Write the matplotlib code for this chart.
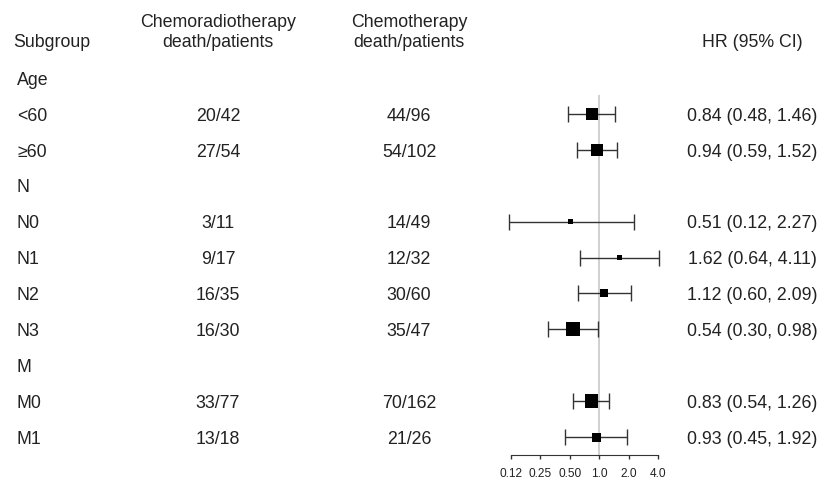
import numpy as np
import matplotlib
matplotlib.use('Agg')
import matplotlib.pyplot as plt
import matplotlib.transforms as mtransforms

plt.rcParams['font.family'] = ['Liberation Sans', 'DejaVu Sans']

# data
rows = ['Age', '<60', '≥60', 'N', 'N0', 'N1', 'N2', 'N3', 'M', 'M0', 'M1']
crt = ['', '20/42', '27/54', '', '3/11', '9/17', '16/35', '16/30', '', '33/77', '13/18']
ct = ['', '44/96', '54/102', '', '14/49', '12/32', '30/60', '35/47', '', '70/162', '21/26']
hr = [np.nan, 0.84, 0.94, np.nan, 0.51, 1.62, 1.12, 0.54, np.nan, 0.83, 0.93]
lo = [np.nan, 0.48, 0.59, np.nan, 0.12, 0.64, 0.60, 0.30, np.nan, 0.54, 0.45]
hi = [np.nan, 1.46, 1.52, np.nan, 2.27, 4.11, 2.09, 0.98, np.nan, 1.26, 1.92]
ticks = [0.125, 0.25, 0.5, 1.0, 2.0, 4.0]
tick_labels = ['0.12', '0.25', '0.50', '1.0', '2.0', '4.0']

# box side in pixels (weights as drawn)
box_px = [0, 11.3, 12, 0, 5.5, 5.3, 8, 14, 0, 13.3, 9]

W, H = 823, 482
row_px = 35.9
fig = plt.figure(figsize=(W / 100, H / 100), dpi=100)
ax = fig.add_axes([470 / W, 0, 260 / W, 1])
ax.set_xscale('log', base=2)
ppd = 29.5  # pixels per doubling
ax.set_xlim(2 ** ((470 - 599.3) / ppd), 2 ** ((730 - 599.3) / ppd))
ax.set_ylim((H - 78) / row_px, -78 / row_px)
ax.patch.set_visible(False)

txt = '#222222'
y = np.arange(len(rows))
hr_a, lo_a, hi_a = np.array(hr), np.array(lo), np.array(hi)
ok = ~np.isnan(hr_a)

axis_row = 10.51
ax.vlines(1.0, 0.47, axis_row, color='#c8c8c8', lw=1.2, zorder=1)
ax.errorbar(hr_a[ok], y[ok], xerr=[hr_a[ok] - lo_a[ok], hi_a[ok] - hr_a[ok]],
            fmt='none', ecolor='#333333', elinewidth=1.0, capsize=5.5, capthick=1.0, zorder=2)
ax.scatter(hr_a[ok], y[ok], marker='s', s=(np.array(box_px)[ok] * 0.72) ** 2,
           color='black', linewidths=0, zorder=3)

for s in ['top', 'right', 'left']:
    ax.spines[s].set_visible(False)
ax.spines['bottom'].set_position(('data', axis_row))
ax.spines['bottom'].set_bounds(0.125, 4.0)
ax.spines['bottom'].set_color('#333333')
ax.set_xticks(ticks)
ax.set_xticklabels(tick_labels)
ax.minorticks_off()
ax.tick_params(axis='x', direction='out', length=3, width=1, color='#333333',
               labelsize=8.6, labelcolor=txt, pad=6)
ax.set_yticks([])

# text columns, baseline sits a bit below the row centre
tr = mtransforms.blended_transform_factory(fig.transFigure, ax.transData)
fs = 12.8
off = 6.8 / row_px
for i, lab in enumerate(rows):
    ax.text(17 / W, i + off, lab, transform=tr, ha='left', va='baseline', fontsize=fs, color=txt)
    if crt[i]:
        ax.text(218 / W, i + off, crt[i], transform=tr, ha='center', va='baseline', fontsize=fs, color=txt)
        ax.text(409 / W, i + off, ct[i], transform=tr, ha='center', va='baseline', fontsize=fs, color=txt)
        ax.text(752 / W, i + off, f'{hr[i]:.2f} ({lo[i]:.2f}, {hi[i]:.2f})', transform=tr,
                ha='center', va='baseline', fontsize=fs, color=txt)

# headers
fig.text(13 / W, 1 - 47 / H, 'Subgroup', ha='left', va='baseline', fontsize=fs, color=txt)
fig.text(218 / W, 1 - 26.7 / H, 'Chemoradiotherapy', ha='center', va='baseline', fontsize=fs, color=txt)
fig.text(218 / W, 1 - 47 / H, 'death/patients', ha='center', va='baseline', fontsize=fs, color=txt)
fig.text(409 / W, 1 - 26.7 / H, 'Chemotherapy', ha='center', va='baseline', fontsize=fs, color=txt)
fig.text(409 / W, 1 - 47 / H, 'death/patients', ha='center', va='baseline', fontsize=fs, color=txt)
fig.text(752 / W, 1 - 47 / H, 'HR (95% CI)', ha='center', va='baseline', fontsize=fs, color=txt)

fig.savefig('out.png', dpi=100)
